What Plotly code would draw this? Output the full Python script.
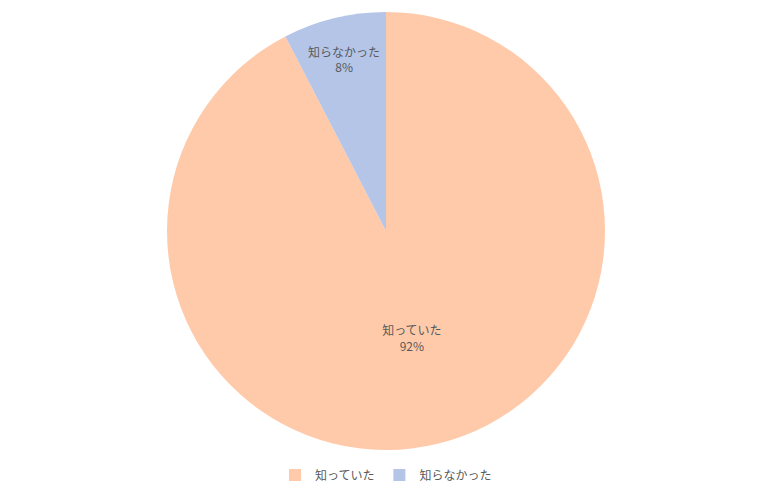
import plotly.graph_objects as go

# Answer categories and their shares (%)
labels = ["知っていた", "知らなかった"]
values = [92.4, 7.6]
colors = ["#FFCAAA", "#B4C5E8"]

fig = go.Figure(data=[go.Pie(labels=labels, values=values,
                             sort=False,
                             direction="clockwise",
                             rotation=0,
                             marker=dict(colors=colors, line=dict(width=0)),
                             texttemplate="%{label}<br>%{percent:.0%}",
                             textposition="inside",
                             insidetextorientation="horizontal",
                             textfont=dict(color="#595959", size=12),
                             hoverinfo="label+percent")])

# page body adds 8px, so margins are shifted to keep the pie where it should be
fig.update_layout(width=774, height=496,
                  margin=dict(l=0, r=18, t=4, b=54),
                  paper_bgcolor="white",
                  font=dict(family="Noto Sans CJK JP", color="#595959", size=12),
                  showlegend=True,
                  legend=dict(orientation="h", x=0.5, xanchor="center",
                              y=-0.057, yanchor="middle",
                              font=dict(size=12, color="#595959"),
                              itemwidth=30))

fig.write_html("out.html")
